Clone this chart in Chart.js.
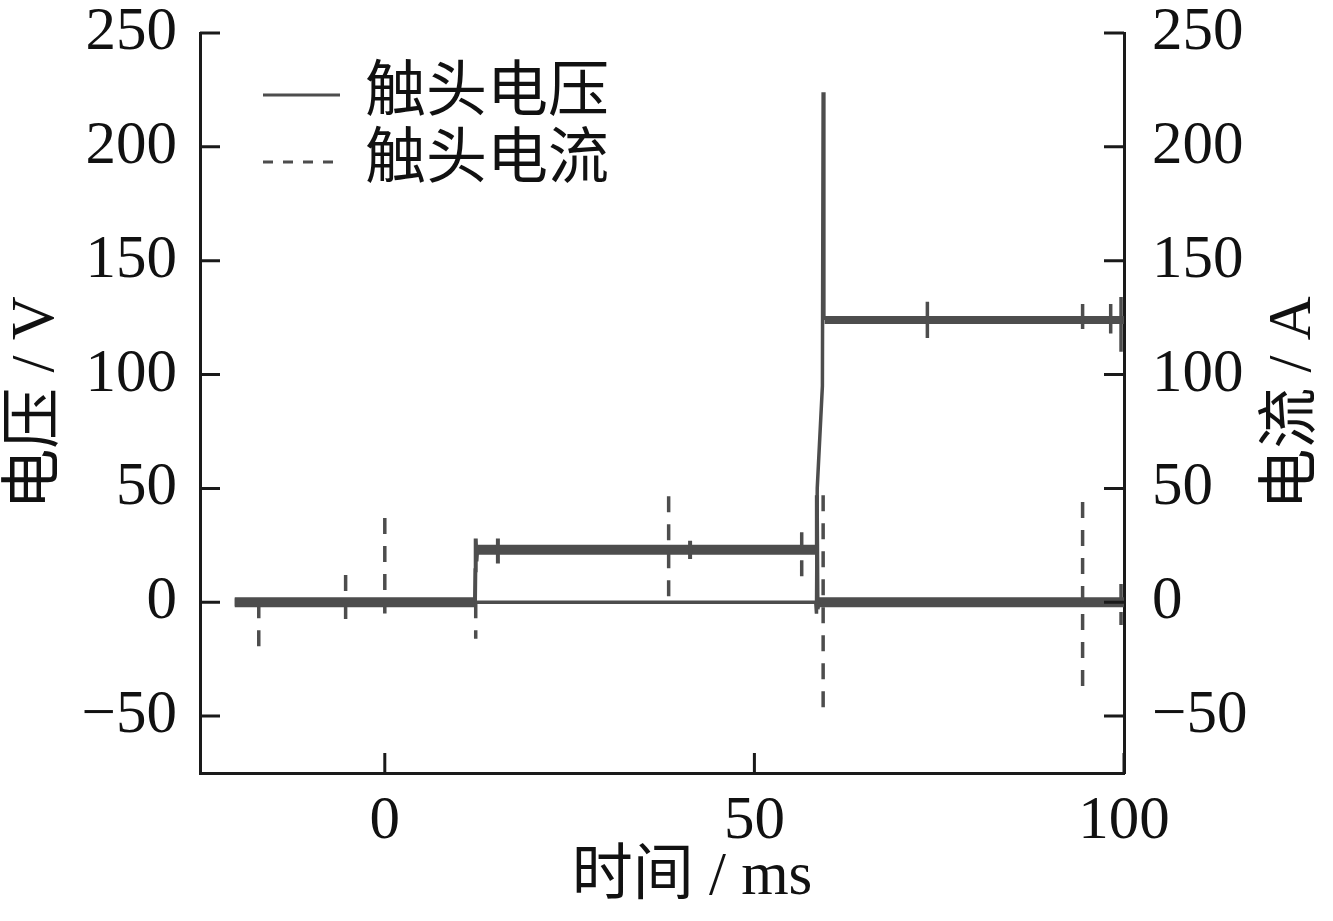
<!DOCTYPE html>
<html>
<head>
<meta charset="utf-8">
<script src="https://cdn.jsdelivr.net/npm/chart.js@4.4.1/dist/chart.umd.min.js"></script>
<style>
  body { margin: 0; background: #fff; }
  #wrap { width: 1333px; height: 921px; }
</style>
</head>
<body>
<div id="wrap"><canvas id="contactChart" width="1333" height="921"></canvas></div>
<script>
/* ---------------------------
   DATA (time in ms)
---------------------------*/
// 触头电压: noisy flat parts
const voltNoiseTime  = [-20.3, 12.2, 12.2, 59.5, 100];
const voltNoiseValue = [0, 0, null, 124, 124];
// 触头电压: clean trace, arc spike and small spikes on the 124 V level
const voltTraceTime  = [12.2, 58.3, 58.4, 58.5, 59.2, 59.3, 59.4, 59.4, 73.4, 73.4, 73.4, 94.4, 94.4, 94.4, 98.2, 98.2, 98.2, 99.6, 99.6];
const voltTraceValue = [0, 0, -5, 50, 95, 224, 124, null, 132, 116, null, 131, 120, null, 131, 118, null, 134, 110];

// 触头电流: noisy flat parts
const currNoiseTime  = [-20.3, 12.2, 12.2, 12.5, 58.4, 58.4, 58.7, 100];
const currNoiseValue = [0, 0, null, 23, 23, null, 0, 0];
// 触头电流: rising / falling edges and small wiggles
const currEdgeTime  = [12.2, 12.25, 12.3, 12.4, 12.5, 12.5, 15.3, 15.3, 15.3, 41.3, 41.3, 41.3, 58.4, 58.45, 58.55, 58.7];
const currEdgeValue = [0, 14, 28, 18, 23, null, 28, 17, null, 27, 19, null, 23, 47, -3, 0];
// 触头电流: dashed spikes
const currSpikeTime  = [-17.05, -17.05, -17.05, -5.3, -5.3, -5.3, 0, 0, 0, 12.3, 12.3, 12.3, 38.4, 38.4, 38.4, 56.4, 56.4, 56.4, 59.3, 59.3, 59.3, 94.4, 94.4, 94.4, 99.6, 99.6];
const currSpikeValue = [0, -21, null, 12, -11, null, 37, -5, null, 0, -16, null, 46.5, -2, null, 30.7, 7.5, null, 47, -47, null, 44, -37, null, 8, -10];

// axes
const xTicks = [0, 50, 100];
const yTicks = [-50, 0, 50, 100, 150, 200, 250];
const legendLabels = ['触头电压', '触头电流'];

/* ---------------------------
   STYLE
---------------------------*/
const lineColor = '#4d4d4d';
const axisColor = '#1a1a1a';
const fontFamily = '"Liberation Serif", "Noto Sans CJK SC", serif';
const fontSize = 61;

function toPoints(times, values) {
    return times.map((t, i) => ({ x: t, y: values[i] }));
}

function minusLabel(v) {
    return v < 0 ? '\u2212' + Math.abs(v) : String(v);
}

/* ---------------------------
   INWARD TICKS, TITLES, LEGEND
---------------------------*/
const framePlugin = {
    id: 'framePlugin',
    afterDraw(chart) {
        const { ctx, chartArea: a, scales } = chart;
        ctx.save();
        ctx.strokeStyle = axisColor;
        ctx.lineWidth = 3;
        ctx.beginPath();
        scales.x.ticks.forEach(t => {
            const px = scales.x.getPixelForValue(t.value);
            ctx.moveTo(px, a.bottom);
            ctx.lineTo(px, a.bottom - 20);
        });
        scales.y.ticks.forEach(t => {
            const py = scales.y.getPixelForValue(t.value);
            ctx.moveTo(a.left, py);
            ctx.lineTo(a.left + 20, py);
        });
        scales.y1.ticks.forEach(t => {
            const py = scales.y1.getPixelForValue(t.value);
            ctx.moveTo(a.right, py);
            ctx.lineTo(a.right - 20, py);
        });
        ctx.stroke();

        ctx.fillStyle = '#111';
        ctx.font = fontSize + 'px ' + fontFamily;
        ctx.textAlign = 'center';
        ctx.textBaseline = 'middle';

        // x axis title, a little right of the plot centre as in the original
        ctx.fillText('时间 / ms', 692, 878);

        // right axis title, reads bottom to top
        ctx.save();
        ctx.translate(1294, (a.top + a.bottom) / 2);
        ctx.rotate(-Math.PI / 2);
        ctx.fillText('电流 / A', 0, 0);
        ctx.restore();

        // legend
        const rows = [{ y: 95, dash: [] }, { y: 162, dash: [10, 10] }];
        rows.forEach((r, i) => {
            ctx.strokeStyle = lineColor;
            ctx.lineWidth = 3;
            ctx.setLineDash(r.dash);
            ctx.beginPath();
            ctx.moveTo(263, r.y);
            ctx.lineTo(340, r.y);
            ctx.stroke();
            ctx.setLineDash([]);
            ctx.textAlign = 'left';
            ctx.fillText(legendLabels[i], 365, r.y);
        });
        ctx.restore();
    }
};

/* ---------------------------
   CHART
---------------------------*/
function initializeChart() {
    const ctx = document.getElementById('contactChart');

    const tickFont = { family: fontFamily, size: fontSize };
    const yTickFont = { family: fontFamily, size: fontSize, lineHeight: 0.4 };

    return new Chart(ctx, {
        type: 'line',
        data: {
            datasets: [
                {
                    label: '触头电压',
                    data: toPoints(voltTraceTime, voltTraceValue),
                    borderColor: lineColor,
                    borderWidth: 3.5,
                },
                {
                    label: '触头电压 噪声',
                    data: toPoints(voltNoiseTime, voltNoiseValue),
                    borderColor: lineColor,
                    borderWidth: 8,
                },
                {
                    label: '触头电流',
                    data: toPoints(currSpikeTime, currSpikeValue),
                    borderColor: lineColor,
                    borderWidth: 3.5,
                    borderDash: [16, 12],
                },
                {
                    label: '触头电流 边沿',
                    data: toPoints(currEdgeTime, currEdgeValue),
                    borderColor: lineColor,
                    borderWidth: 4,
                },
                {
                    label: '触头电流 噪声',
                    data: toPoints(currNoiseTime, currNoiseValue),
                    borderColor: lineColor,
                    borderWidth: 10,
                }
            ]
        },
        options: {
            responsive: false,
            animation: false,
            devicePixelRatio: 1,
            spanGaps: false,
            elements: {
                point: { radius: 0 },
                line: { tension: 0, borderCapStyle: 'butt' }
            },
            layout: { padding: { top: 33, right: 0, bottom: 0, left: 0 } },
            plugins: {
                legend: { display: false },
                tooltip: { enabled: false }
            },
            scales: {
                x: {
                    type: 'linear',
                    min: -25,
                    max: 100,
                    afterBuildTicks: s => { s.ticks = xTicks.map(v => ({ value: v })); },
                    afterFit: s => { s.height = 148; },
                    grid: { display: false },
                    border: { display: true, color: axisColor, width: 3 },
                    ticks: { color: '#111', font: tickFont, padding: 4, maxRotation: 0, callback: minusLabel }
                },
                y: {
                    position: 'left',
                    min: -75,
                    max: 250,
                    afterBuildTicks: s => { s.ticks = yTicks.map(v => ({ value: v })); },
                    afterFit: s => { s.width = 200; },
                    grid: { display: false },
                    border: { display: true, color: axisColor, width: 3 },
                    ticks: { color: '#111', font: yTickFont, padding: 15, callback: minusLabel },
                    title: {
                        display: true,
                        text: '电压 / V',
                        color: '#111',
                        font: tickFont,
                        padding: { top: 0, bottom: 0 }
                    }
                },
                y1: {
                    position: 'right',
                    min: -75,
                    max: 250,
                    afterBuildTicks: s => { s.ticks = yTicks.map(v => ({ value: v })); },
                    afterFit: s => { s.width = 209; },
                    grid: { display: false },
                    border: { display: true, color: axisColor, width: 3 },
                    ticks: { color: '#111', font: yTickFont, padding: 20, callback: minusLabel }
                }
            }
        },
        plugins: [framePlugin]
    });
}

document.addEventListener('DOMContentLoaded', () => {
    initializeChart();
});
</script>
</body>
</html>
